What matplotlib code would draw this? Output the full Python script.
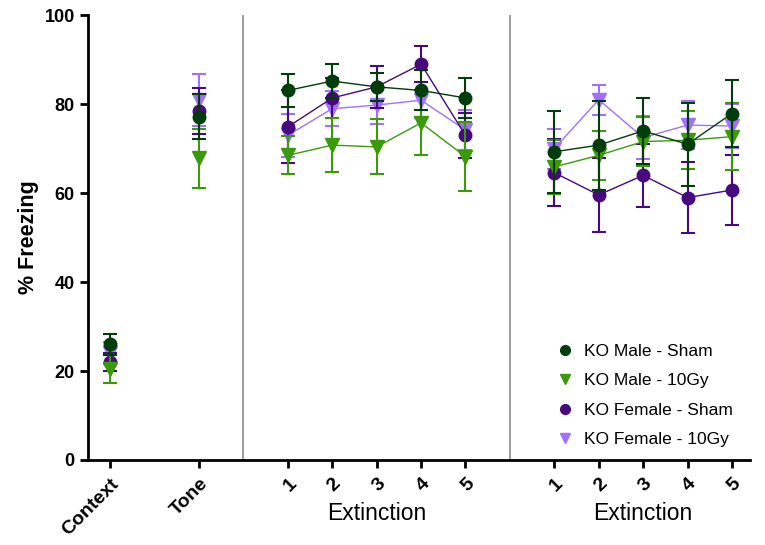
import numpy as np
import matplotlib
matplotlib.use("Agg")
from matplotlib import pyplot as plt

plt.rcParams['font.family'] = ['Liberation Sans', 'DejaVu Sans']

# x categories
tick_labels = ["Context", "Tone", "1", "2", "3", "4", "5", "1", "2", "3", "4", "5"]
tick_pos = [0, 2, 4, 5, 6, 7, 8, 10, 11, 12, 13, 14]

groups = ["KO Male - Sham", "KO Male - 10Gy", "KO Female - Sham", "KO Female - 10Gy"]
colors = ["#003d0a", "#3a9a0a", "#48087e", "#a070ff"]
markers = ["o", "v", "o", "v"]
msizes = [9, 10, 9, 10]

# means: context, tone, extinction day1 (1-5), extinction day2 (1-5)
male_sham = [26.0, 77.2, 83.1, 85.2, 83.9, 83.1, 81.4, 69.3, 70.8, 74.0, 71.0, 77.9]
male_10gy = [20.5, 67.8, 68.5, 70.8, 70.4, 75.8, 68.2, 65.9, 68.5, 71.6, 71.9, 72.7]
fem_sham = [22.0, 78.5, 74.9, 81.4, 83.9, 89.0, 73.0, 64.6, 59.6, 64.0, 59.0, 60.7]
fem_10gy = [24.0, 81.0, 73.0, 79.0, 79.8, 80.9, 74.2, 70.0, 81.0, 72.5, 75.3, 75.1]

# SEM
male_sham_err = [2.3, 5.0, 3.8, 3.9, 3.2, 4.5, 4.4, 9.2, 10.0, 7.4, 9.3, 7.6]
male_10gy_err = [3.2, 6.6, 4.3, 6.0, 6.2, 7.3, 7.8, 6.0, 5.5, 5.5, 6.5, 7.5]
fem_sham_err = [2.0, 5.2, 8.2, 4.6, 4.8, 4.0, 5.0, 7.5, 8.3, 7.1, 7.9, 7.9]
fem_10gy_err = [2.5, 5.8, 4.9, 4.0, 4.2, 4.0, 4.5, 4.5, 3.4, 4.8, 5.4, 5.0]

means = [male_sham, male_10gy, fem_sham, fem_10gy]
errs = [male_sham_err, male_10gy_err, fem_sham_err, fem_10gy_err]

fig = plt.figure(figsize=(7.65, 5.45), dpi=100)
ax = fig.add_axes([0.115, 0.156, 0.865, 0.816])

x = np.array(tick_pos)
segs = [slice(0, 1), slice(1, 2), slice(2, 7), slice(7, 12)]
# first group drawn on top
for i in range(3, -1, -1):
    m = np.array(means[i])
    e = np.array(errs[i])
    for s in segs:
        ax.errorbar(x[s], m[s], yerr=e[s], color=colors[i], marker=markers[i],
                    markersize=msizes[i], capsize=5, elinewidth=1.5, capthick=1.5,
                    lw=1, zorder=3 + (3 - i))

for sx in [3, 9]:
    ax.axvline(sx, ymin=0, ymax=1, color="#8c8c8c", lw=1.2)

ax.set_xlim(-0.5, 14.4)
ax.set_ylim(0, 100)
ax.set_yticks([0, 20, 40, 60, 80, 100])
ax.set_xticks(tick_pos)
ax.set_xticklabels(tick_labels, rotation=45, ha="right", rotation_mode="anchor",
                   fontsize=14, fontweight="bold")
for t in ax.get_yticklabels():
    t.set_fontsize(13)
    t.set_fontweight("bold")
ax.tick_params(axis="both", width=2, length=6, direction="out")
ax.tick_params(axis="x", pad=5)
ax.spines["top"].set_visible(False)
ax.spines["right"].set_visible(False)
ax.spines["left"].set_linewidth(2)
ax.spines["bottom"].set_linewidth(2)
ax.set_ylabel("% Freezing", fontsize=15.5, fontweight="bold")

ax.text(6, -12.0, "Extinction", ha="center", va="center", fontsize=16.5)
ax.text(12, -12.0, "Extinction", ha="center", va="center", fontsize=16.5)

handles = [plt.Line2D([], [], ls="none", marker=mk, color=c, markersize=7)
           for mk, c in zip(markers, colors)]
ax.legend(handles, groups, loc="center left", bbox_to_anchor=(0.684, 0.145),
          frameon=False, fontsize=12.5, handlelength=1.0, handletextpad=0.6,
          labelspacing=0.83)

fig.savefig("out.png", dpi=100)
